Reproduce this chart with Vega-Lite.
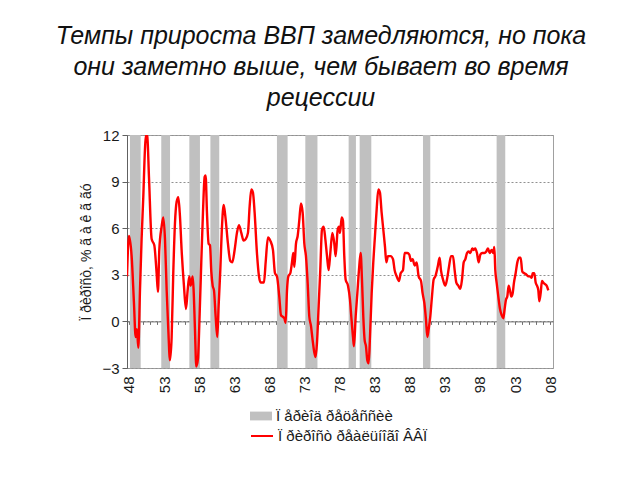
{
  "$schema": "https://vega.github.io/schema/vega-lite/v6.json",
  "width": 426,
  "height": 233,
  "autosize": {"type": "none"},
  "padding": {"left": 127, "top": 135, "right": 87, "bottom": 112},
  "background": "white",
  "config": {
    "font": "Liberation Sans",
    "view": {"stroke": "#A0A0A0", "strokeWidth": 1},
    "axis": {"labelFont": "Liberation Sans", "titleFont": "Liberation Sans", "labelColor": "#1a1a1a", "titleColor": "#1a1a1a"},
    "legend": {"labelFont": "Liberation Sans", "labelFontSize": 15, "labelColor": "#1a1a1a", "padding": 0}
  },
  "title": {
    "text": ["Темпы прироста ВВП замедляются, но пока", "они заметно выше, чем бывает во время", "рецессии"],
    "font": "Liberation Sans",
    "fontStyle": "italic",
    "fontWeight": "normal",
    "fontSize": 25,
    "color": "#111",
    "lineHeight": 31,
    "anchor": "middle",
    "frame": "group",
    "dx": -19,
    "offset": 17
  },
  "datasets": {
    "gdp": [
      {"year":1947.72,"growth":2.9},{"year":1948.0,"growth":5.5},{"year":1948.38,"growth":4.2},{"year":1948.71,"growth":1.2},{"year":1948.95,"growth":-1.0},{"year":1949.14,"growth":-0.5},{"year":1949.33,"growth":-1.7},{"year":1949.57,"growth":2.0},{"year":1949.8,"growth":5.3},{"year":1950.04,"growth":8.0},{"year":1950.28,"growth":11.1},{"year":1950.42,"growth":12.0},{"year":1950.61,"growth":11.9},{"year":1950.85,"growth":9.3},{"year":1951.23,"growth":5.3},{"year":1951.61,"growth":4.9},{"year":1951.94,"growth":3.1},{"year":1952.13,"growth":1.9},{"year":1952.32,"growth":4.6},{"year":1952.65,"growth":6.1},{"year":1952.89,"growth":6.7},{"year":1953.13,"growth":5.3},{"year":1953.37,"growth":2.0},{"year":1953.6,"growth":-0.5},{"year":1953.84,"growth":-2.5},{"year":1954.08,"growth":-1.0},{"year":1954.31,"growth":3.1},{"year":1954.55,"growth":6.3},{"year":1954.79,"growth":7.7},{"year":1955.03,"growth":8.0},{"year":1955.26,"growth":6.8},{"year":1955.5,"growth":4.6},{"year":1955.83,"growth":2.3},{"year":1956.12,"growth":0.8},{"year":1956.36,"growth":2.0},{"year":1956.59,"growth":2.9},{"year":1956.78,"growth":2.3},{"year":1957.07,"growth":2.9},{"year":1957.21,"growth":2.0},{"year":1957.4,"growth":-0.5},{"year":1957.59,"growth":-2.9},{"year":1957.83,"growth":-2.4},{"year":1958.07,"growth":0.5},{"year":1958.3,"growth":3.8},{"year":1958.54,"growth":7.0},{"year":1958.78,"growth":9.3},{"year":1958.92,"growth":9.4},{"year":1959.11,"growth":7.0},{"year":1959.35,"growth":5.0},{"year":1959.54,"growth":4.9},{"year":1959.73,"growth":3.2},{"year":1959.92,"growth":2.3},{"year":1960.11,"growth":2.0},{"year":1960.35,"growth":0.3},{"year":1960.58,"growth":-1.0},{"year":1960.77,"growth":1.0},{"year":1961.01,"growth":3.3},{"year":1961.25,"growth":6.1},{"year":1961.49,"growth":7.5},{"year":1961.72,"growth":6.8},{"year":1962.1,"growth":5.0},{"year":1962.43,"growth":3.9},{"year":1962.72,"growth":3.8},{"year":1963.05,"growth":4.6},{"year":1963.38,"growth":5.7},{"year":1963.67,"growth":6.2},{"year":1964.0,"growth":5.7},{"year":1964.33,"growth":5.2},{"year":1964.62,"growth":5.3},{"year":1964.95,"growth":5.7},{"year":1965.19,"growth":7.4},{"year":1965.43,"growth":8.5},{"year":1965.66,"growth":8.3},{"year":1965.9,"growth":7.0},{"year":1966.23,"growth":4.4},{"year":1966.52,"growth":2.9},{"year":1966.76,"growth":2.5},{"year":1967.23,"growth":2.5},{"year":1967.47,"growth":3.8},{"year":1967.8,"growth":5.4},{"year":1968.13,"growth":5.2},{"year":1968.51,"growth":4.6},{"year":1968.8,"growth":3.1},{"year":1969.08,"growth":2.9},{"year":1969.41,"growth":1.6},{"year":1969.65,"growth":0.4},{"year":1969.89,"growth":0.3},{"year":1970.13,"growth":0.2},{"year":1970.32,"growth":-0.1},{"year":1970.51,"growth":2.0},{"year":1970.7,"growth":2.9},{"year":1970.98,"growth":3.1},{"year":1971.22,"growth":3.8},{"year":1971.41,"growth":4.4},{"year":1971.55,"growth":3.5},{"year":1971.79,"growth":5.0},{"year":1972.03,"growth":5.5},{"year":1972.26,"growth":6.5},{"year":1972.5,"growth":7.6},{"year":1972.74,"growth":7.0},{"year":1972.98,"growth":5.0},{"year":1973.21,"growth":4.2},{"year":1973.45,"growth":2.5},{"year":1973.69,"growth":0.3},{"year":1973.93,"growth":-0.3},{"year":1974.16,"growth":-1.2},{"year":1974.4,"growth":-2.0},{"year":1974.59,"growth":-2.3},{"year":1974.78,"growth":-1.4},{"year":1975.02,"growth":1.0},{"year":1975.25,"growth":3.3},{"year":1975.49,"growth":5.9},{"year":1975.73,"growth":6.1},{"year":1975.97,"growth":5.3},{"year":1976.21,"growth":4.2},{"year":1976.44,"growth":3.3},{"year":1976.68,"growth":4.4},{"year":1976.97,"growth":5.7},{"year":1977.25,"growth":5.0},{"year":1977.44,"growth":4.2},{"year":1977.73,"growth":5.9},{"year":1977.92,"growth":6.1},{"year":1978.06,"growth":5.7},{"year":1978.3,"growth":6.7},{"year":1978.48,"growth":6.5},{"year":1978.67,"growth":4.2},{"year":1978.86,"growth":2.7},{"year":1979.2,"growth":2.3},{"year":1979.48,"growth":1.4},{"year":1979.67,"growth":0.3},{"year":1979.91,"growth":-1.0},{"year":1980.05,"growth":-1.6},{"year":1980.29,"growth":0.3},{"year":1980.53,"growth":1.8},{"year":1980.76,"growth":3.3},{"year":1981.0,"growth":4.4},{"year":1981.19,"growth":2.7},{"year":1981.38,"growth":0.3},{"year":1981.57,"growth":-1.2},{"year":1981.76,"growth":-1.6},{"year":1981.95,"growth":-2.5},{"year":1982.14,"growth":-2.7},{"year":1982.33,"growth":-1.0},{"year":1982.57,"growth":1.8},{"year":1982.8,"growth":3.8},{"year":1983.04,"growth":5.5},{"year":1983.28,"growth":7.2},{"year":1983.52,"growth":8.5},{"year":1983.75,"growth":8.3},{"year":1983.99,"growth":7.0},{"year":1984.23,"growth":5.9},{"year":1984.47,"growth":4.8},{"year":1984.66,"growth":3.8},{"year":1984.89,"growth":4.2},{"year":1985.27,"growth":4.2},{"year":1985.61,"growth":4.0},{"year":1985.84,"growth":3.3},{"year":1986.13,"growth":2.9},{"year":1986.46,"growth":2.6},{"year":1986.7,"growth":3.1},{"year":1987.03,"growth":3.3},{"year":1987.27,"growth":4.4},{"year":1987.65,"growth":4.4},{"year":1987.93,"growth":4.3},{"year":1988.17,"growth":3.9},{"year":1988.41,"growth":4.0},{"year":1988.69,"growth":3.6},{"year":1988.98,"growth":3.8},{"year":1989.26,"growth":2.9},{"year":1989.6,"growth":2.6},{"year":1989.83,"growth":1.8},{"year":1990.07,"growth":1.2},{"year":1990.31,"growth":0.1},{"year":1990.5,"growth":-1.0},{"year":1990.69,"growth":-0.5},{"year":1990.92,"growth":0.3},{"year":1991.16,"growth":1.6},{"year":1991.4,"growth":2.7},{"year":1991.64,"growth":2.9},{"year":1991.97,"growth":3.5},{"year":1992.25,"growth":4.1},{"year":1992.44,"growth":3.3},{"year":1992.73,"growth":2.7},{"year":1993.06,"growth":2.3},{"year":1993.3,"growth":2.7},{"year":1993.58,"growth":3.5},{"year":1993.87,"growth":4.2},{"year":1994.15,"growth":4.2},{"year":1994.39,"growth":3.3},{"year":1994.63,"growth":2.5},{"year":1994.91,"growth":2.3},{"year":1995.2,"growth":2.1},{"year":1995.44,"growth":2.7},{"year":1995.68,"growth":3.8},{"year":1995.91,"growth":4.0},{"year":1996.15,"growth":4.4},{"year":1996.39,"growth":4.5},{"year":1996.62,"growth":4.4},{"year":1996.91,"growth":4.7},{"year":1997.1,"growth":4.6},{"year":1997.33,"growth":4.7},{"year":1997.57,"growth":4.4},{"year":1997.81,"growth":3.8},{"year":1998.05,"growth":4.3},{"year":1998.33,"growth":4.4},{"year":1998.62,"growth":4.4},{"year":1998.9,"growth":4.5},{"year":1999.14,"growth":4.7},{"year":1999.38,"growth":4.4},{"year":1999.66,"growth":4.6},{"year":1999.9,"growth":4.4},{"year":2000.04,"growth":4.8},{"year":2000.18,"growth":3.3},{"year":2000.37,"growth":2.5},{"year":2000.61,"growth":1.6},{"year":2000.85,"growth":0.8},{"year":2001.09,"growth":0.4},{"year":2001.32,"growth":0.2},{"year":2001.51,"growth":0.8},{"year":2001.7,"growth":1.4},{"year":2001.89,"growth":1.6},{"year":2002.08,"growth":2.3},{"year":2002.27,"growth":2.0},{"year":2002.46,"growth":1.6},{"year":2002.65,"growth":1.8},{"year":2002.84,"growth":2.5},{"year":2003.08,"growth":3.1},{"year":2003.32,"growth":3.8},{"year":2003.56,"growth":4.1},{"year":2003.79,"growth":4.1},{"year":2004.03,"growth":3.2},{"year":2004.31,"growth":3.1},{"year":2004.65,"growth":3.0},{"year":2004.88,"growth":2.9},{"year":2005.12,"growth":2.9},{"year":2005.36,"growth":2.8},{"year":2005.5,"growth":3.1},{"year":2005.74,"growth":3.1},{"year":2005.93,"growth":2.5},{"year":2006.12,"growth":2.3},{"year":2006.31,"growth":2.0},{"year":2006.45,"growth":1.3},{"year":2006.64,"growth":1.8},{"year":2006.83,"growth":2.6},{"year":2007.02,"growth":2.5},{"year":2007.26,"growth":2.4},{"year":2007.49,"growth":2.3},{"year":2007.73,"growth":2.0}
    ],
    "rec": [
      {"start":1948.14,"end":1949.67,"label":"Ï åðèîä ðåöåññèè"},
      {"start":1952.6,"end":1953.85,"label":"Ï åðèîä ðåöåññèè"},
      {"start":1956.6,"end":1958.11,"label":"Ï åðèîä ðåöåññèè"},
      {"start":1959.6,"end":1960.86,"label":"Ï åðèîä ðåöåññèè"},
      {"start":1969.08,"end":1970.6,"label":"Ï åðèîä ðåöåññèè"},
      {"start":1973.12,"end":1974.85,"label":"Ï åðèîä ðåöåññèè"},
      {"start":1979.29,"end":1980.33,"label":"Ï åðèîä ðåöåññèè"},
      {"start":1980.86,"end":1982.52,"label":"Ï åðèîä ðåöåññèè"},
      {"start":1989.88,"end":1990.92,"label":"Ï åðèîä ðåöåññèè"},
      {"start":2000.37,"end":2001.6,"label":"Ï åðèîä ðåöåññèè"}
    ]
  },
  "layer": [
    {
      "data": {"name": "rec"},
      "mark": {"type": "rect", "opacity": 1},
      "encoding": {
        "x": {
          "field": "start", "type": "quantitative",
          "scale": {"domain": [1947.72, 2008.4], "nice": false, "zero": false},
          "axis": {
            "values": [1948, 1953, 1958, 1963, 1968, 1973, 1978, 1983, 1988, 1993, 1998, 2003, 2008],
            "labelExpr": "substring(toString(datum.value), 2, 4)",
            "labelAngle": -90,
            "labelFontSize": 15,
            "labelPadding": 8,
            "ticks": false,
            "domain": false,
            "grid": false,
            "title": null
          }
        },
        "x2": {"field": "end"},
        "y": {
          "datum": 12, "type": "quantitative",
          "scale": {"domain": [-3, 12], "nice": false, "zero": false},
          "axis": {
            "values": [-3, 0, 3, 6, 9, 12],
            "grid": true,
            "gridDash": [2, 2],
            "gridColor": "#909090",
            "domainColor": "#606060",
            "tickColor": "#606060",
            "tickSize": 5,
            "labelPadding": 3,
            "labelFontSize": 15,
            "title": "Ï ðèðîñò, % ã à ê ã ãó",
            "titleFontSize": 14,
            "titleFontWeight": "normal",
            "titlePadding": 8
          }
        },
        "y2": {"datum": -3},
        "fill": {
          "field": "label", "type": "nominal",
          "scale": {"range": ["#C0C0C0"]},
          "legend": {
            "orient": "none", "legendX": 123, "legendY": 270, "title": null,
            "symbolType": "M-1,-0.4H1V0.4H-1Z", "symbolSize": 484,
            "symbolStrokeWidth": 0, "symbolOpacity": 1, "labelFontSize": 15
          }
        }
      }
    },
    {
      "mark": {"type": "rule", "color": "#707070", "strokeWidth": 1.2},
      "encoding": {"y": {"datum": 0, "type": "quantitative"}}
    },
    {
      "data": {"name": "gdp"},
      "mark": {"type": "line", "strokeWidth": 2.4, "clip": true, "interpolate": "monotone"},
      "encoding": {
        "x": {
          "field": "year", "type": "quantitative",
          "scale": {"domain": [1947.72, 2008.4], "nice": false, "zero": false},
          "axis": {
            "orient": "bottom",
            "offset": -46.6,
            "values": [1948,1949,1950,1951,1952,1953,1954,1955,1956,1957,1958,1959,1960,1961,1962,1963,1964,1965,1966,1967,1968,1969,1970,1971,1972,1973,1974,1975,1976,1977,1978,1979,1980,1981,1982,1983,1984,1985,1986,1987,1988,1989,1990,1991,1992,1993,1994,1995,1996,1997,1998,1999,2000,2001,2002,2003,2004,2005,2006,2007,2008],
            "labels": false,
            "ticks": true,
            "tickSize": 3,
            "tickColor": "#707070",
            "domain": true,
            "domainColor": "#707070",
            "grid": false,
            "title": null,
            "zindex": 0
          }
        },
        "y": {"field": "growth", "type": "quantitative"},
        "stroke": {
          "datum": "Ï ðèðîñò ðåàëüíîãî  ÂÂÏ",
          "scale": {"range": ["#FF0000"]},
          "legend": {
            "orient": "none", "legendX": 123, "legendY": 289, "title": null,
            "symbolType": "stroke", "symbolSize": 484, "symbolStrokeWidth": 2,
            "labelFontSize": 15
          }
        }
      }
    }
  ],
  "resolve": {"scale": {"x": "independent"}, "axis": {"x": "independent"}}
}
